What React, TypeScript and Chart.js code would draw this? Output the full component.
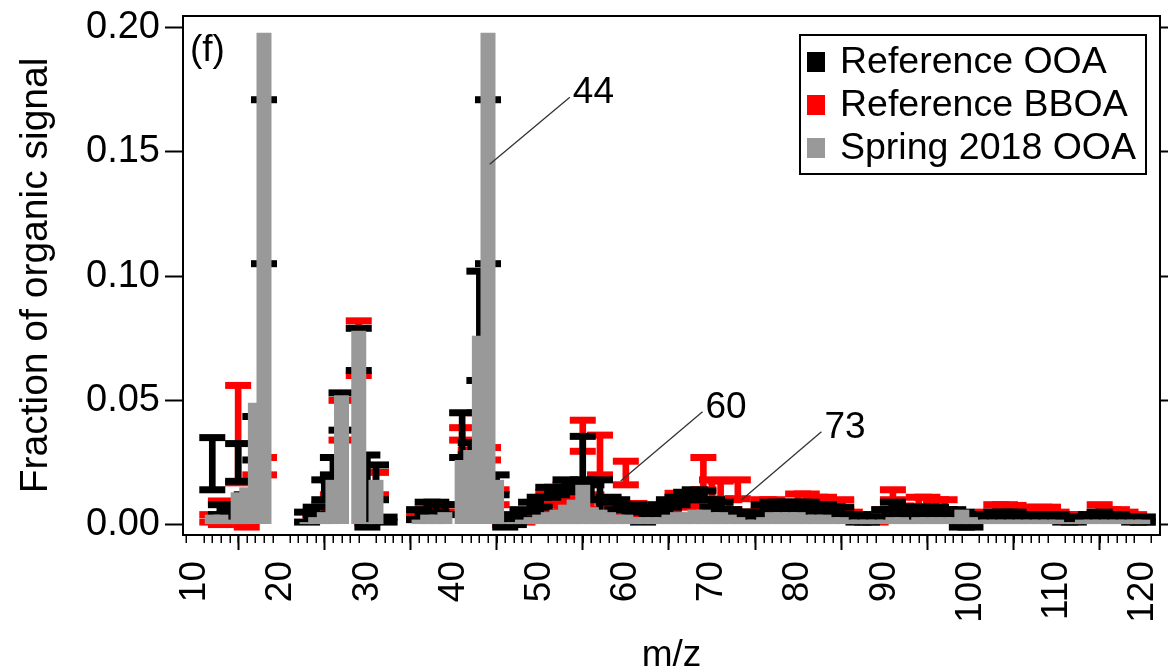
import React, { useEffect, useRef } from 'react';
import { Chart, registerables } from 'chart.js';

Chart.register(...registerables);

// m/z values (x categories)
const mz = [
  12, 13, 14, 15, 16, 17, 18, 19, 20, 21,
  22, 23, 24, 25, 26, 27, 28, 29, 30, 31,
  32, 33, 34, 35, 36, 37, 38, 39, 40, 41,
  42, 43, 44, 45, 46, 47, 48, 49, 50, 51,
  52, 53, 54, 55, 56, 57, 58, 59, 60, 61,
  62, 63, 64, 65, 66, 67, 68, 69, 70, 71,
  72, 73, 74, 75, 76, 77, 78, 79, 80, 81,
  82, 83, 84, 85, 86, 87, 88, 89, 90, 91,
  92, 93, 94, 95, 96, 97, 98, 99, 100, 101,
  102, 103, 104, 105, 106, 107, 108, 109, 110, 111,
  112, 113, 114, 115, 116, 117, 118, 119, 120,
];

// Spring 2018 OOA (grey bars)
const spring2018OOA = [
  0.004, 0.004, 0.002, 0.013, 0.015, 0.049, 0.198, null, null, null,
  null, 0.001, 0.003, 0.005, 0.018, 0.052, null, 0.078, 0.001, 0.018,
  null, null, null, null, 0.002, 0.004, 0.004, 0.005, null, 0.026,
  0.030, 0.076, 0.198, 0.018, 0.001, 0.001, 0.002, 0.003, 0.004, 0.005,
  0.006, 0.008, 0.010, 0.016, 0.007, 0.006, 0.005, 0.004, 0.004, 0.003,
  0.003, 0.003, 0.003, 0.004, 0.005, 0.005, 0.006, 0.006, 0.005, 0.005,
  0.004, 0.003, 0.002, 0.002, 0.003, 0.005, 0.005, 0.005, 0.005, 0.004,
  0.004, 0.004, 0.003, 0.003, 0.002, 0.002, 0.002, 0.002, 0.002, 0.003,
  0.003, 0.002, 0.003, 0.003, 0.003, 0.003, 0.003, 0.006, 0.003, 0.002,
  0.002, 0.002, 0.002, 0.002, 0.002, 0.002, 0.002, 0.002, 0.002, 0.001,
  0.001, 0.002, 0.002, 0.002, 0.002, 0.002, 0.002, 0.002, 0.002,
];

// Reference OOA range (black)
const refOOALow = [
  0.014, 0.004, 0.003, 0.0174, 0.008, 0.026, 0.105, null, null, null,
  null, 0.001, 0.004, 0.010, 0.020, 0.038, null, 0.062, -0.001, 0.010,
  0.001, null, null, null, 0.002, 0.004, 0.005, 0.004, null, 0.027,
  0.028, 0.058, 0.105, 0.012, -0.001, 0.000, 0.002, 0.005, 0.007, 0.011,
  0.012, 0.014, 0.013, 0.018, 0.010, 0.002, 0.009, 0.006, 0.006, 0.005,
  0.001, 0.004, 0.005, 0.007, 0.008, 0.010, 0.011, 0.010, 0.007, 0.006,
  0.004, 0.003, 0.002, 0.002, 0.005, 0.006, 0.006, 0.006, 0.006, 0.006,
  0.005, 0.005, 0.004, 0.004, 0.002, 0.001, 0.001, 0.002, 0.003, 0.006,
  0.004, 0.003, 0.004, 0.005, 0.004, 0.004, 0.004, -0.001, -0.001, 0.002,
  0.002, 0.003, 0.003, 0.003, 0.002, 0.002, 0.002, 0.002, 0.002, 0.001,
  0.001, 0.002, 0.002, 0.003, 0.002, 0.002, 0.002, 0.001, 0.001,
];
const refOOAHigh = [
  0.035, 0.008, 0.006, 0.0326, 0.012, 0.0435, 0.171, null, null, null,
  null, 0.005, 0.007, 0.018, 0.027, 0.053, null, 0.079, 0.028, 0.024,
  0.003, null, null, null, 0.006, 0.009, 0.009, 0.008, null, 0.045,
  0.033, 0.102, 0.171, 0.020, 0.004, 0.003, 0.006, 0.009, 0.011, 0.015,
  0.015, 0.018, 0.016, 0.0355, 0.016, 0.018, 0.011, 0.010, 0.008, 0.008,
  0.006, 0.007, 0.008, 0.010, 0.011, 0.013, 0.014, 0.0135, 0.010, 0.009,
  0.006, 0.005, 0.005, 0.004, 0.008, 0.009, 0.009, 0.009, 0.009, 0.009,
  0.008, 0.008, 0.007, 0.007, 0.004, 0.004, 0.003, 0.003, 0.006, 0.009,
  0.007, 0.005, 0.007, 0.007, 0.007, 0.006, 0.006, 0.005, 0.004, 0.004,
  0.004, 0.005, 0.005, 0.005, 0.004, 0.004, 0.004, 0.004, 0.004, 0.003,
  0.003, 0.003, 0.004, 0.005, 0.004, 0.004, 0.003, 0.003, 0.003,
];

// Reference BBOA range (red)
const refBBOALow = [
  0.001, 0.000, 0.001, 0.0168, -0.001, 0.010, 0.020, null, null, null,
  null, null, 0.002, 0.004, 0.012, 0.034, null, 0.060, 0.001, 0.012,
  null, null, null, null, 0.002, 0.003, 0.004, 0.005, null, 0.034,
  0.022, 0.030, 0.026, 0.008, 0.000, 0.001, 0.001, 0.002, 0.004, 0.008,
  0.005, 0.010, 0.006, 0.0295, 0.006, 0.020, 0.004, 0.003, 0.016, 0.004,
  0.002, 0.003, 0.003, 0.005, 0.008, 0.007, 0.009, 0.014, 0.010, 0.0103,
  0.006, 0.0104, 0.003, 0.002, 0.006, 0.006, 0.005, 0.005, 0.008, 0.008,
  0.007, 0.007, 0.006, 0.006, 0.002, 0.002, 0.002, 0.001, 0.003, 0.010,
  0.004, 0.002, 0.007, 0.007, 0.006, 0.006, 0.003, 0.002, 0.002, 0.002,
  0.003, 0.005, 0.005, 0.005, 0.004, 0.004, 0.004, 0.004, 0.003, 0.002,
  0.002, 0.002, 0.002, 0.005, 0.004, 0.003, 0.002, 0.002, 0.001,
];
const refBBOAHigh = [
  0.004, 0.0095, 0.004, 0.056, 0.006, 0.020, 0.027, null, null, null,
  null, null, 0.004, 0.008, 0.018, 0.050, null, 0.082, 0.004, 0.021,
  null, null, null, null, 0.004, 0.006, 0.007, 0.008, null, 0.039,
  0.030, 0.045, 0.031, 0.014, 0.003, 0.002, 0.003, 0.005, 0.008, 0.013,
  0.008, 0.016, 0.010, 0.042, 0.012, 0.036, 0.008, 0.006, 0.0255, 0.0085,
  0.005, 0.006, 0.006, 0.009, 0.0126, 0.011, 0.012, 0.027, 0.018, 0.0175,
  0.010, 0.018, 0.005, 0.004, 0.010, 0.010, 0.008, 0.009, 0.0123, 0.0123,
  0.011, 0.011, 0.0095, 0.010, 0.005, 0.004, 0.004, 0.003, 0.006, 0.014,
  0.0075, 0.005, 0.011, 0.011, 0.010, 0.010, 0.005, 0.004, 0.004, 0.004,
  0.005, 0.008, 0.008, 0.0077, 0.007, 0.006, 0.007, 0.007, 0.005, 0.004,
  0.004, 0.003, 0.004, 0.008, 0.006, 0.006, 0.005, 0.004, 0.003,
];

const yTicks = [0, 0.05, 0.1, 0.15, 0.2];
const xMajorTicks = [10, 20, 30, 40, 50, 60, 70, 80, 90, 100, 110, 120];
const xMinorTicks = [
  9, 11, 12, 13, 14, 15, 16, 17, 18, 19, 21, 22, 23, 24, 25, 26, 27, 28, 29,
  31, 32, 33, 34, 35, 36, 37, 38, 39, 41, 42, 43, 44, 45, 46, 47, 48, 49,
  51, 52, 53, 54, 55, 56, 57, 58, 59, 61, 62, 63, 64, 65, 66, 67, 68, 69,
  71, 72, 73, 74, 75, 76, 77, 78, 79, 81, 82, 83, 84, 85, 86, 87, 88, 89,
  91, 92, 93, 94, 95, 96, 97, 98, 99, 101, 102, 103, 104, 105, 106, 107, 108, 109,
  111, 112, 113, 114, 115, 116, 117, 118, 119, 121,
];

// Peak labels with leader lines (data coordinates)
const peakLabels = [
  { text: '44', x0: 44.2, y0: 0.145, x1: 53.5, y1: 0.172 },
  { text: '60', x0: 59.4, y0: 0.0175, x1: 68.9, y1: 0.0454 },
  { text: '73', x0: 73.45, y0: 0.010, x1: 82.7, y1: 0.0374 },
];

const legendItems = [
  { label: 'Reference OOA', color: '#000000' },
  { label: 'Reference BBOA', color: '#ff0000' },
  { label: 'Spring 2018 OOA', color: '#999999' },
];

const FONT = '"Liberation Sans", Arial, Helvetica, sans-serif';
const GREY = '#999999';
const RED = '#ff0000';
const BLACK = '#000000';

function toPoints(vals: (number | null)[]) {
  const out: { x: number; y: number }[] = [];
  mz.forEach((m, i) => {
    const v = vals[i];
    if (v !== null && v !== undefined) out.push({ x: m, y: v });
  });
  return out;
}
function toRanges(lo: (number | null)[], hi: (number | null)[]) {
  const out: { x: number; y: [number, number] }[] = [];
  mz.forEach((m, i) => {
    const a = lo[i];
    const b = hi[i];
    if (a !== null && b !== null && a !== undefined && b !== undefined) out.push({ x: m, y: [a, b] });
  });
  return out;
}

const overlayPlugin = {
  id: 'overlay',
  afterDraw(chart: any) {
    const { ctx, chartArea, scales } = chart;
    const x = scales.x;
    const y = scales.y;
    ctx.save();
    // top frame
    ctx.strokeStyle = BLACK;
    ctx.lineWidth = 2;
    ctx.beginPath();
    ctx.moveTo(chartArea.left - 1, chartArea.top);
    ctx.lineTo(chartArea.right + 1, chartArea.top);
    ctx.stroke();
    // minor ticks
    ctx.lineWidth = 1.5;
    ctx.beginPath();
    xMinorTicks.forEach((m) => {
      const px = Math.round(x.getPixelForValue(m)) + 0.25;
      ctx.moveTo(px, chartArea.bottom);
      ctx.lineTo(px, chartArea.bottom + 8);
    });
    ctx.stroke();

    // (f)
    ctx.fillStyle = BLACK;
    ctx.font = `37px ${FONT}`;
    ctx.textAlign = 'left';
    ctx.textBaseline = 'alphabetic';
    ctx.fillText('(f)', chartArea.left + 7, chartArea.top + 45);

    // peak labels
    peakLabels.forEach((p) => {
      const ax = x.getPixelForValue(p.x0);
      const ay = y.getPixelForValue(p.y0);
      const bx = x.getPixelForValue(p.x1);
      const by = y.getPixelForValue(p.y1);
      ctx.strokeStyle = '#333333';
      ctx.lineWidth = 1.3;
      ctx.beginPath();
      ctx.moveTo(ax, ay);
      ctx.lineTo(bx, by);
      ctx.stroke();
      ctx.fillStyle = BLACK;
      ctx.font = `37px ${FONT}`;
      ctx.fillText(p.text, bx + 3, by + 6);
    });

    // legend
    const lRight = chartArea.right - 14;
    const lLeft = lRight - 346;
    const lTop = chartArea.top + 19;
    const lBottom = lTop + 139;
    ctx.fillStyle = '#ffffff';
    ctx.fillRect(lLeft, lTop, lRight - lLeft, lBottom - lTop);
    ctx.strokeStyle = BLACK;
    ctx.lineWidth = 2;
    ctx.strokeRect(lLeft, lTop, lRight - lLeft, lBottom - lTop);
    ctx.font = `37.5px ${FONT}`;
    ctx.textBaseline = 'middle';
    legendItems.forEach((it, i) => {
      const cy = lTop + 27 + i * 43;
      ctx.fillStyle = it.color;
      ctx.fillRect(lLeft + 7, cy - 10, 18, 20);
      ctx.fillStyle = BLACK;
      ctx.fillText(it.label, lLeft + 40, cy + 1);
    });
    ctx.restore();
  },
};

export default function App() {
  const ref = useRef<HTMLCanvasElement | null>(null);
  useEffect(() => {
    if (!ref.current) return;
    const capCommon = {
      type: 'line',
      showLine: false,
      pointStyle: 'line',
      pointRadius: 13,
      pointBorderWidth: 7,
      borderWidth: 7,
    };
    const chart = new Chart(ref.current, {
      type: 'bar',
      data: {
        datasets: [
          {
            type: 'bar',
            label: 'Spring 2018 OOA',
            data: toPoints(spring2018OOA),
            backgroundColor: GREY,
            grouped: false,
            categoryPercentage: 1,
            barPercentage: 1.74,
            order: 0,
          },
          {
            type: 'bar',
            label: 'Reference OOA',
            data: toRanges(refOOALow, refOOAHigh),
            backgroundColor: BLACK,
            grouped: false,
            barThickness: 6,
            order: 1,
          },
          { ...capCommon, label: 'Reference OOA high', data: toPoints(refOOAHigh), borderColor: BLACK, pointBorderColor: BLACK, order: 1 },
          { ...capCommon, label: 'Reference OOA low', data: toPoints(refOOALow), borderColor: BLACK, pointBorderColor: BLACK, order: 1 },
          {
            type: 'bar',
            label: 'Reference BBOA',
            data: toRanges(refBBOALow, refBBOAHigh),
            backgroundColor: RED,
            grouped: false,
            barThickness: 6,
            order: 2,
          },
          { ...capCommon, label: 'Reference BBOA high', data: toPoints(refBBOAHigh), borderColor: RED, pointBorderColor: RED, order: 2 },
          { ...capCommon, label: 'Reference BBOA low', data: toPoints(refBBOALow), borderColor: RED, pointBorderColor: RED, order: 2 },
        ] as any,
      },
      options: {
        animation: false,
        responsive: false,
        events: [],
        layout: { autoPadding: false, padding: { top: 16, left: 0, right: 0, bottom: 0 } },
        plugins: { legend: { display: false }, tooltip: { enabled: false } },
        scales: {
          x: {
            type: 'linear',
            min: 8.6,
            max: 122,
            offset: false,
            afterBuildTicks: (s: any) => {
              s.ticks = xMajorTicks.map((v) => ({ value: v }));
            },
            afterFit: (s: any) => {
              s.height = 133;
              s.paddingLeft = 0;
              s.paddingRight = 0;
            },
            grid: { display: true, drawOnChartArea: false, drawTicks: true, tickLength: 15, tickWidth: 2, tickColor: BLACK, color: BLACK },
            border: { display: true, color: BLACK, width: 2 },
            ticks: {
              autoSkip: false,
              minRotation: 90,
              maxRotation: 90,
              padding: 11,
              color: BLACK,
              font: { family: FONT, size: 37 },
              callback: (v: any) => String(v),
            },
            title: {
              display: true,
              text: 'm/z',
              color: BLACK,
              font: { family: FONT, size: 37, lineHeight: 1.2 },
              padding: { top: 0, bottom: -10 },
            },
          },
          y: {
            type: 'linear',
            position: 'left',
            min: -0.0042,
            max: 0.2047,
            afterBuildTicks: (s: any) => {
              s.ticks = yTicks.map((v) => ({ value: v }));
            },
            afterFit: (s: any) => {
              s.width = 183;
              s.paddingTop = 0;
              s.paddingBottom = 0;
            },
            grid: { display: true, drawOnChartArea: false, drawTicks: true, tickLength: 18, tickWidth: 2, tickColor: BLACK, color: BLACK },
            border: { display: true, color: BLACK, width: 2 },
            ticks: {
              padding: 5,
              color: BLACK,
              font: { family: FONT, size: 38 },
              callback: (v: any) => Number(v).toFixed(2),
            },
            title: {
              display: true,
              text: 'Fraction of organic signal',
              color: BLACK,
              font: { family: FONT, size: 39, lineHeight: 1.2 },
              padding: { top: 13, bottom: 0 },
            },
          },
          y2: {
            type: 'linear',
            position: 'right',
            min: -0.0042,
            max: 0.2047,
            afterBuildTicks: (s: any) => {
              s.ticks = yTicks.map((v) => ({ value: v }));
            },
            afterFit: (s: any) => {
              s.width = 8;
              s.paddingTop = 0;
              s.paddingBottom = 0;
            },
            grid: { display: true, drawOnChartArea: false, drawTicks: true, tickLength: 8, tickWidth: 2, tickColor: BLACK, color: BLACK },
            border: { display: true, color: BLACK, width: 2 },
            ticks: { display: false },
          },
        },
      } as any,
      plugins: [overlayPlugin],
    });
    return () => chart.destroy();
  }, []);
  return (
    <div style={{ position: 'absolute', left: 0, top: 0, width: 1168, height: 668, background: '#fff' }}>
      <canvas ref={ref} width={1168} height={668} style={{ display: 'block', width: 1168, height: 668 }} />
    </div>
  );
}
